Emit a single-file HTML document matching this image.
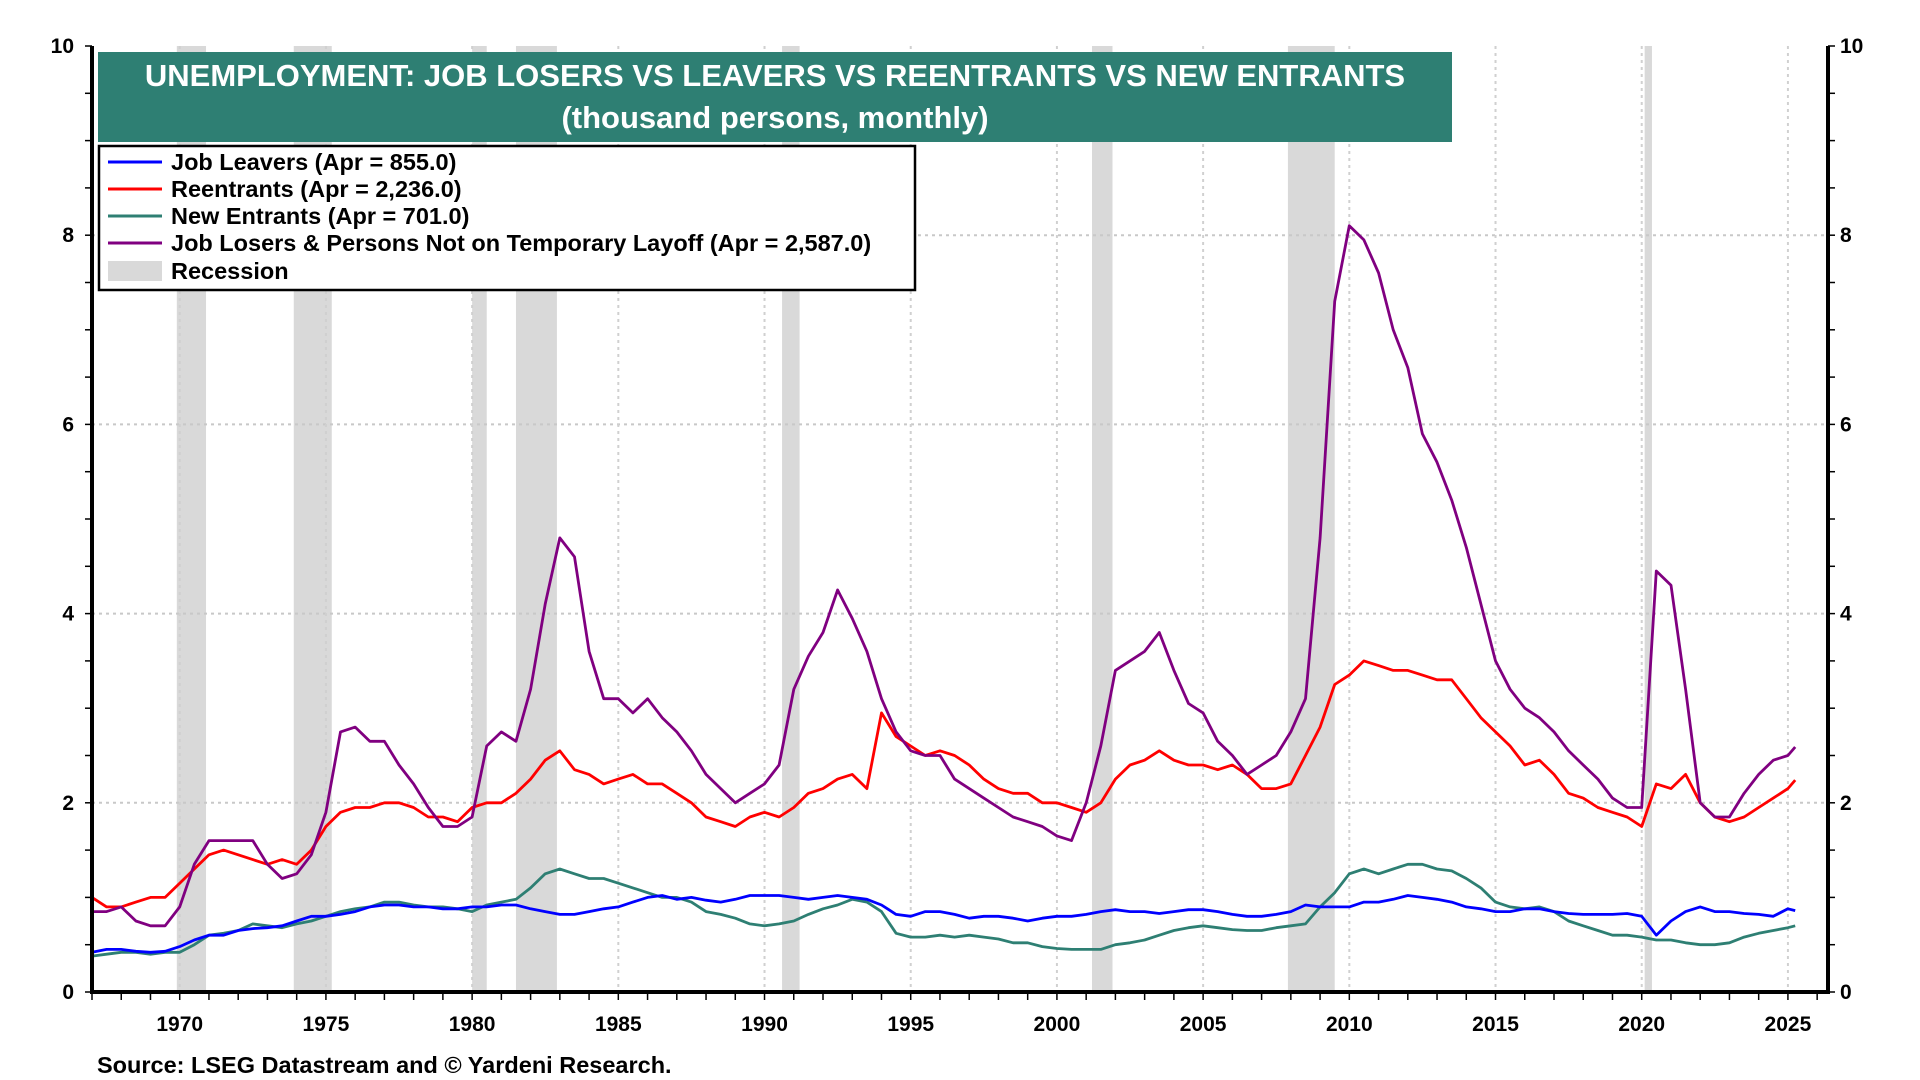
<!DOCTYPE html>
<html><head><meta charset="utf-8"><style>
html,body{margin:0;padding:0;background:#fff;}
svg{display:block;font-family:"Liberation Sans",Arial,sans-serif;}
</style></head><body>
<svg id="chart" width="1920" height="1080" viewBox="0 0 1920 1080" xmlns="http://www.w3.org/2000/svg">
<g id="rec"></g>
<g id="grid"></g>
<g id="series"></g>
<g id="axes"></g>
<rect x="98" y="52" width="1354" height="90" fill="#2e7f73"/>
<text x="775" y="86" text-anchor="middle" fill="#fff" font-weight="bold" font-size="31">UNEMPLOYMENT: JOB LOSERS VS LEAVERS VS REENTRANTS VS NEW ENTRANTS</text>
<text x="775" y="128" text-anchor="middle" fill="#fff" font-weight="bold" font-size="31">(thousand persons, monthly)</text>
<g>
<rect x="99" y="146" width="816" height="144" fill="#fff" stroke="#000" stroke-width="2.5"/>
<line x1="108" y1="162" x2="162" y2="162" stroke="#0000ff" stroke-width="3"/>
<text x="171" y="170" font-size="23.5" font-weight="bold">Job Leavers (Apr = 855.0)</text>
<line x1="108" y1="189" x2="162" y2="189" stroke="#ff0000" stroke-width="3"/>
<text x="171" y="197" font-size="23.5" font-weight="bold">Reentrants (Apr = 2,236.0)</text>
<line x1="108" y1="216" x2="162" y2="216" stroke="#2e7f73" stroke-width="3"/>
<text x="171" y="224" font-size="23.5" font-weight="bold">New Entrants (Apr = 701.0)</text>
<line x1="108" y1="243" x2="162" y2="243" stroke="#800080" stroke-width="3"/>
<text x="171" y="251" font-size="23.5" font-weight="bold">Job Losers &amp; Persons Not on Temporary Layoff (Apr = 2,587.0)</text>
<rect x="108" y="261" width="54" height="20" fill="#d9d9d9"/>
<text x="171" y="279" font-size="23.5" font-weight="bold">Recession</text>
</g>
<text x="97" y="1073" font-size="23.5" font-weight="bold">Source: LSEG Datastream and © Yardeni Research.</text>
</svg>
<script>
const dates=[];for(let y=1967;y<=2025;y+=0.5)dates.push(y);dates.push(2025.25);
const losers=[0.85,0.85,0.9,0.75,0.7,0.7,0.9,1.35,1.6,1.6,1.6,1.6,1.35,1.2,1.25,1.45,1.9,2.75,2.8,2.65,2.65,2.4,2.2,1.95,1.75,1.75,1.85,2.6,2.75,2.65,3.2,4.1,4.8,4.6,3.6,3.1,3.1,2.95,3.1,2.9,2.75,2.55,2.3,2.15,2.0,2.1,2.2,2.4,3.2,3.55,3.8,4.25,3.95,3.6,3.1,2.75,2.55,2.5,2.5,2.25,2.15,2.05,1.95,1.85,1.8,1.75,1.65,1.6,2.0,2.6,3.4,3.5,3.6,3.8,3.4,3.05,2.95,2.65,2.5,2.3,2.4,2.5,2.75,3.1,4.8,7.3,8.1,7.95,7.6,7.0,6.6,5.9,5.6,5.2,4.7,4.1,3.5,3.2,3.0,2.9,2.75,2.55,2.4,2.25,2.05,1.95,1.95,4.45,4.3,3.2,2.0,1.85,1.85,2.1,2.3,2.45,2.5,2.59];
const reentrants=[1.0,0.9,0.9,0.95,1.0,1.0,1.15,1.3,1.45,1.5,1.45,1.4,1.35,1.4,1.35,1.5,1.75,1.9,1.95,1.95,2.0,2.0,1.95,1.85,1.85,1.8,1.95,2.0,2.0,2.1,2.25,2.45,2.55,2.35,2.3,2.2,2.25,2.3,2.2,2.2,2.1,2.0,1.85,1.8,1.75,1.85,1.9,1.85,1.95,2.1,2.15,2.25,2.3,2.15,2.95,2.7,2.6,2.5,2.55,2.5,2.4,2.25,2.15,2.1,2.1,2.0,2.0,1.95,1.9,2.0,2.25,2.4,2.45,2.55,2.45,2.4,2.4,2.35,2.4,2.3,2.15,2.15,2.2,2.5,2.8,3.25,3.35,3.5,3.45,3.4,3.4,3.35,3.3,3.3,3.1,2.9,2.75,2.6,2.4,2.45,2.3,2.1,2.05,1.95,1.9,1.85,1.75,2.2,2.15,2.3,2.0,1.85,1.8,1.85,1.95,2.05,2.15,2.24];
const leavers=[0.42,0.45,0.45,0.43,0.42,0.43,0.48,0.55,0.6,0.6,0.65,0.67,0.68,0.7,0.75,0.8,0.8,0.82,0.85,0.9,0.92,0.92,0.9,0.9,0.88,0.88,0.9,0.9,0.92,0.92,0.88,0.85,0.82,0.82,0.85,0.88,0.9,0.95,1.0,1.02,0.98,1.0,0.97,0.95,0.98,1.02,1.02,1.02,1.0,0.98,1.0,1.02,1.0,0.98,0.92,0.82,0.8,0.85,0.85,0.82,0.78,0.8,0.8,0.78,0.75,0.78,0.8,0.8,0.82,0.85,0.87,0.85,0.85,0.83,0.85,0.87,0.87,0.85,0.82,0.8,0.8,0.82,0.85,0.92,0.9,0.9,0.9,0.95,0.95,0.98,1.02,1.0,0.98,0.95,0.9,0.88,0.85,0.85,0.88,0.88,0.85,0.83,0.82,0.82,0.82,0.83,0.8,0.6,0.75,0.85,0.9,0.85,0.85,0.83,0.82,0.8,0.88,0.86];
const newEntrants=[0.38,0.4,0.42,0.42,0.4,0.42,0.42,0.5,0.6,0.62,0.65,0.72,0.7,0.68,0.72,0.75,0.8,0.85,0.88,0.9,0.95,0.95,0.92,0.9,0.9,0.88,0.85,0.92,0.95,0.98,1.1,1.25,1.3,1.25,1.2,1.2,1.15,1.1,1.05,1.0,1.0,0.95,0.85,0.82,0.78,0.72,0.7,0.72,0.75,0.82,0.88,0.92,0.98,0.95,0.85,0.62,0.58,0.58,0.6,0.58,0.6,0.58,0.56,0.52,0.52,0.48,0.46,0.45,0.45,0.45,0.5,0.52,0.55,0.6,0.65,0.68,0.7,0.68,0.66,0.65,0.65,0.68,0.7,0.72,0.9,1.05,1.25,1.3,1.25,1.3,1.35,1.35,1.3,1.28,1.2,1.1,0.95,0.9,0.88,0.9,0.85,0.75,0.7,0.65,0.6,0.6,0.58,0.55,0.55,0.52,0.5,0.5,0.52,0.58,0.62,0.65,0.68,0.70];
const recStart=[1969.9,1973.9,1980.0,1981.5,1990.6,2001.2,2007.9,2020.1];
const recEnd=[1970.9,1975.2,1980.5,1982.9,1991.2,2001.9,2009.5,2020.35];
const yTicks=[0,2,4,6,8,10];
const xTicks=[1970,1975,1980,1985,1990,1995,2000,2005,2010,2015,2020,2025];

const X0=92,X1=1828,Y0=992,Y1=46;
const x=v=>X0+(v-1967)*29.24;
const y=v=>Y0-v*(Y0-Y1)/10;
const NS='http://www.w3.org/2000/svg';
function mk(tag,parent,attrs){const e=document.createElementNS(NS,tag);for(const k in attrs)e.setAttribute(k,attrs[k]);parent.appendChild(e);return e;}
const rec=document.getElementById('rec'),grid=document.getElementById('grid'),ser=document.getElementById('series'),ax=document.getElementById('axes');
recStart.forEach((s,i)=>{const r=mk('rect',rec,{x:x(s),y:Y1,width:x(recEnd[i])-x(s),height:Y0-Y1,fill:'#d9d9d9'});

});
yTicks.forEach(t=>{if(t>0&&t<10){const l=mk('line',grid,{x1:X0,x2:X1,y1:y(t),y2:y(t),stroke:'#c8c8c8','stroke-width':2,'stroke-dasharray':'3,4'});

}
const a=mk('text',ax,{x:74,y:y(t)+7,'text-anchor':'end','font-size':21,'font-weight':'bold'});a.textContent=t;


const b=mk('text',ax,{x:1840,y:y(t)+7,'font-size':21,'font-weight':'bold'});b.textContent=t;

});
for(let v=0;v<=10;v+=0.5){mk('line',ax,{x1:X0-7,x2:X0,y1:y(v),y2:y(v),stroke:'#000','stroke-width':1.5});mk('line',ax,{x1:X1,x2:X1+7,y1:y(v),y2:y(v),stroke:'#000','stroke-width':1.5});}
xTicks.forEach(t=>{const l=mk('line',grid,{x1:x(t),x2:x(t),y1:Y1,y2:Y0,stroke:'#d0d0d0','stroke-width':2,'stroke-dasharray':'3,4'});


const a=mk('text',ax,{x:x(t),y:1031,'text-anchor':'middle','font-size':21,'font-weight':'bold'});a.textContent=t;

});
for(let yr=1967;yr<=2026;yr++)mk('line',ax,{x1:x(yr),x2:x(yr),y1:Y0,y2:Y0+8,stroke:'#000','stroke-width':1.5});
function line(vals,color,name){const d=vals.map((v,i)=>(i?'L':'M')+x(dates[i]).toFixed(1)+','+y(v).toFixed(1)).join('');
const p=mk('path',ser,{d:d,fill:'none',stroke:color,'stroke-width':2.8,'stroke-linejoin':'round'});

}
line(newEntrants,'#2e7f73','new-entrants-line');
line(leavers,'#0000ff','job-leavers-line');
line(reentrants,'#ff0000','reentrants-line');
line(losers,'#800080','job-losers-line');
const fr=mk('path',ax,{d:`M${X0},${Y1}L${X0},${Y0}L${X1},${Y0}L${X1},${Y1}`,fill:'none',stroke:'#000','stroke-width':4});


</script>
</body></html>
